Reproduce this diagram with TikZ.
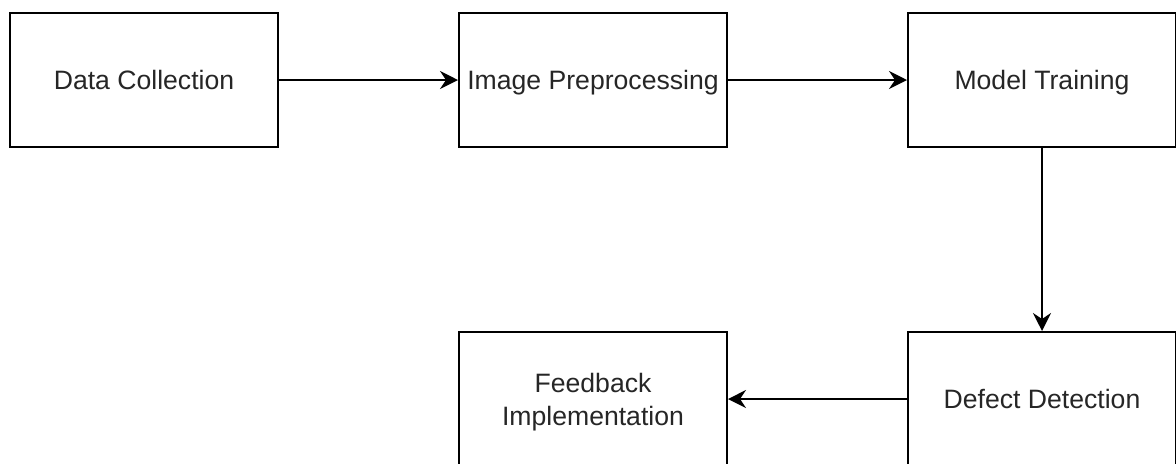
\documentclass[tikz,border=0pt]{standalone}
\usepackage{fontspec}
\setmainfont{Liberation Sans}
\usetikzlibrary{arrows.meta,positioning}

\begin{document}
\begin{tikzpicture}[
  stagebox/.style={rectangle, draw, line width=1pt, minimum width=134pt, minimum height=67pt,
    inner sep=0pt, align=center, text depth=0pt, text=black!85, font=\fontsize{13.3}{16.5}\selectfont},
  flow/.style={draw, line width=1pt, -{Stealth[length=9pt,width=9pt,inset=3pt]}}
]
\useasboundingbox (0,0) rectangle (588pt,-231.5pt);
\node[stagebox] (collect) at (72pt,-40pt) {Data Collection};
\node[stagebox] (preproc) at (296.5pt,-40pt) {Image Preprocessing};
\node[stagebox] (train) at (521pt,-40pt) {Model Training};
\node[stagebox] (detect) at (521pt,-199.5pt) {Defect Detection};
\node[stagebox] (feedback) at (296.5pt,-199.5pt) {Feedback\\Implementation};
\draw[flow] (collect) -- (preproc);
\draw[flow] (preproc) -- (train);
\draw[flow] (train) -- (detect);
\draw[flow] (detect) -- (feedback);
\end{tikzpicture}
\end{document}
